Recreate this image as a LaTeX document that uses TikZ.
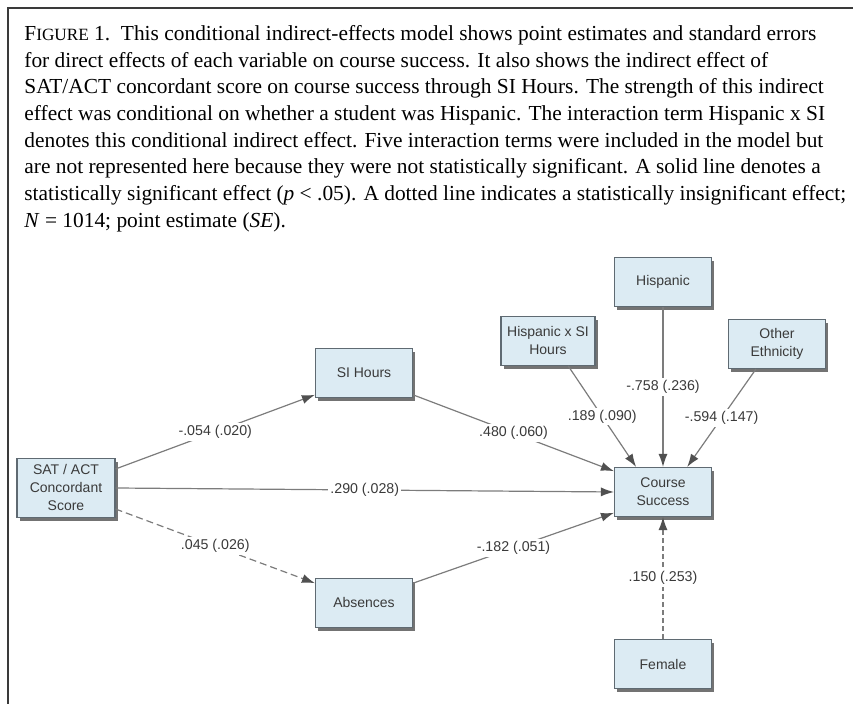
\documentclass[tikz,border=0pt]{standalone}
\usepackage{fontspec}
\setmainfont{Liberation Serif}
\newfontfamily\diagfont{Liberation Sans}
\usetikzlibrary{arrows.meta,positioning,shadows}
\definecolor{boxBlue}{HTML}{DCEBF3}
\definecolor{boxEdge}{HTML}{5F6A72}
\definecolor{lineGray}{HTML}{7C7C7C}
\definecolor{tipGray}{HTML}{505050}
\definecolor{inkGray}{HTML}{3A3A3A}

\begin{document}
\begin{tikzpicture}[x=0.5pt,y=-0.5pt,
  var/.style={draw=boxEdge,line width=.55pt,fill=boxBlue,text=inkGray,font=\diagfont\fontsize{7}{9}\selectfont,
    align=center,minimum width=48.5pt,minimum height=24.5pt,inner sep=1pt,
    drop shadow={shadow xshift=1.4pt,shadow yshift=-1.6pt,fill=black!55,opacity=1}},
  eff/.style={draw=lineGray,line width=.6pt,-{Latex[length=6.5pt,width=4.5pt,color=tipGray]}},
  nseff/.style={eff,dash pattern=on 3.5pt off 2pt},
  coef/.style={fill=white,text=inkGray,font=\diagfont\fontsize{7.1}{8}\selectfont,inner sep=1pt}]
  \useasboundingbox (0,0) rectangle (853,704);
  % frame and caption
  \draw[line width=.6pt,inkGray] (853,8) -- (8,8) -- (8,704);
  \node[anchor=north west,inner sep=0pt,align=left,font=\fontsize{10.7}{13.35}\selectfont] (cap) at (24,25)
    {F{\fontsize{8.6}{13.35}\selectfont IGURE} 1.\enspace This conditional indirect-effects model shows point estimates and standard errors\\
     for direct effects of each variable on course success. It also shows the indirect effect of\\
     SAT/ACT concordant score on course success through SI Hours. The strength of this indirect\\
     effect was conditional on whether a student was Hispanic. The interaction term Hispanic x SI\\
     denotes this conditional indirect effect. Five interaction terms were included in the model but\\
     are not represented here because they were not statistically significant. A solid line denotes a\\
     statistically significant effect (\textit{p} < .05). A dotted line indicates a statistically insignificant effect;\\
     \textit{N} = 1014; point estimate (\textit{SE}).};
  % variables
  \node[var,minimum width=49pt,minimum height=29.5pt] (sat) at (66,488) {SAT / ACT\\Concordant\\Score};
  \node[var] (si) at (364,373) {SI Hours};
  \node[var] (abs) at (364,603) {Absences};
  \node[var] (cs) at (663,492) {Course\\Success};
  \node[var,above=80pt of cs] (hisp) {Hispanic};
  \node[var,minimum width=47pt] (hxs) at (548,341) {Hispanic x SI\\Hours};
  \node[var] (oth) at (777,344) {Other\\Ethnicity};
  \node[var,below=61pt of cs] (fem) {Female};
  % effects
  \draw[eff] (sat.21) -- node[coef] {-.054 (.020)} (si.204);
  \draw[eff] (sat.east) -- node[coef] {.290 (.028)} (cs.west);
  \draw[nseff] (sat.-23) -- node[coef] {.045 (.026)} (abs.158);
  \draw[eff] (si.-24) -- node[coef] {.480 (.060)} (cs.157);
  \draw[eff] (abs.22) -- node[coef] {-.182 (.051)} (cs.203);
  \draw[eff] (hxs.-51) -- node[coef] {.189 (.090)} (cs.137);
  \draw[eff] (hisp) -- node[coef] {-.758 (.236)} (cs);
  \draw[eff] (oth.230) -- node[coef] {-.594 (.147)} (cs.46);
  \draw[eff,dash pattern=on 2.5pt off 1.5pt] (fem) -- node[coef] {.150 (.253)} (cs);
\end{tikzpicture}
\end{document}
